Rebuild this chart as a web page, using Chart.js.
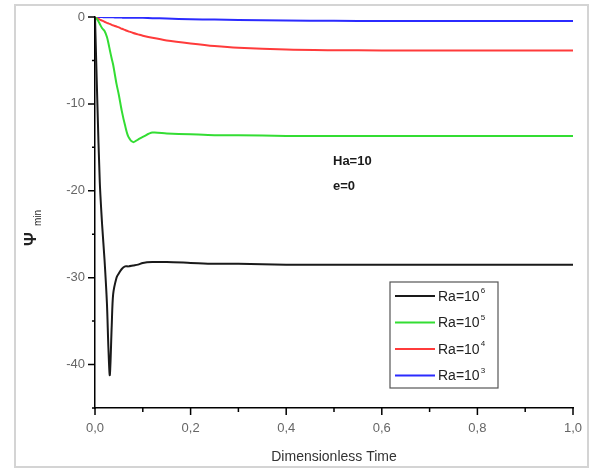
<!DOCTYPE html>
<html>
<head>
<meta charset="utf-8">
<script src="https://cdn.jsdelivr.net/npm/chart.js@4.4.1/dist/chart.umd.min.js"></script>
<style>
  html, body { margin: 0; padding: 0; background: #fff; }
  #wrap { position: relative; width: 592px; height: 470px; }
  #frame { position: absolute; left: 14px; top: 4px; width: 571px; height: 460px; border: 2px solid #d4d4d4; }
  canvas { position: absolute; left: 0; top: 0; }
</style>
</head>
<body>
<div id="wrap">
  <div id="frame"></div>
  <canvas id="chart" width="592" height="470"></canvas>
</div>
<script>
// dimensionless time samples
const times = [0, 0.005, 0.01, 0.015, 0.02, 0.025, 0.028, 0.031, 0.035, 0.038, 0.045, 0.05, 0.056, 0.063, 0.07, 0.08, 0.09, 0.1, 0.12, 0.15, 0.2, 0.25, 0.3, 0.4, 0.5, 0.6, 0.7, 0.8, 0.9, 1.0];

const ra6 = [0, -10, -19, -24, -28, -33, -38, -41.2, -35.5, -31.9, -30.0, -29.5, -29.0, -28.7, -28.7, -28.6, -28.5, -28.3, -28.2, -28.2, -28.3, -28.4, -28.4, -28.5, -28.5, -28.5, -28.5, -28.5, -28.5, -28.5];
const ra5 = [0, -0.3, -0.8, -1.3, -1.6, -2.3, -3.0, -3.8, -4.8, -5.5, -7.7, -9.0, -10.8, -12.5, -13.8, -14.4, -14.1, -13.8, -13.3, -13.4, -13.5, -13.6, -13.6, -13.7, -13.7, -13.7, -13.7, -13.7, -13.7, -13.7];
const ra4 = [0, -0.15, -0.3, -0.42, -0.55, -0.68, -0.74, -0.8, -0.9, -0.96, -1.1, -1.2, -1.35, -1.5, -1.65, -1.85, -2.0, -2.15, -2.4, -2.7, -3.05, -3.35, -3.55, -3.75, -3.82, -3.85, -3.85, -3.85, -3.85, -3.85];
const ra3 = [0, 0, -0.01, -0.01, -0.02, -0.02, -0.03, -0.03, -0.04, -0.04, -0.05, -0.06, -0.07, -0.08, -0.08, -0.09, -0.1, -0.1, -0.13, -0.18, -0.25, -0.3, -0.35, -0.41, -0.44, -0.45, -0.46, -0.46, -0.46, -0.46];

const xTicks = [0, 0.2, 0.4, 0.6, 0.8, 1.0];
const yTicks = [-40, -30, -20, -10, 0];
const legendNames = ['Ra=10', 'Ra=10', 'Ra=10', 'Ra=10'];
const legendExps = ['6', '5', '4', '3'];
const notes = ['Ha=10', 'e=0'];

const colors = ['#1a1a1a', '#33dd33', '#ff3b3b', '#2b2bff'];
const series = [ra6, ra5, ra4, ra3];

const pts = vals => vals.map((v, i) => ({ x: times[i], y: v }));

const extras = {
  id: 'extras',
  afterDraw(chart) {
    const ctx = chart.ctx;
    const xs = chart.scales.x, ys = chart.scales.y;
    const x0 = xs.left, yb = ys.bottom;
    ctx.save();
    ctx.strokeStyle = '#000';
    ctx.lineWidth = 1.5;
    ctx.beginPath();
    // y ticks
    for (let v = -45; v <= 0; v += 5) {
      const y = ys.getPixelForValue(v);
      const len = v % 10 === 0 ? 7 : 3;
      ctx.moveTo(x0 - len, y); ctx.lineTo(x0, y);
    }
    // x ticks
    for (let i = 0; i <= 10; i++) {
      const x = xs.getPixelForValue(i / 10);
      const len = i % 2 === 0 ? 7 : 4;
      ctx.moveTo(x, yb); ctx.lineTo(x, yb + len);
    }
    ctx.stroke();

    // y title: psi with subscript
    ctx.fillStyle = '#222';
    ctx.translate(36, 240);
    ctx.rotate(-Math.PI / 2);
    ctx.font = 'bold 17px "Liberation Sans", Arial, sans-serif';
    ctx.textBaseline = 'alphabetic';
    ctx.textAlign = 'left';
    ctx.fillText('\u03A8', -6, 0);
    ctx.font = '10px "Liberation Sans", Arial, sans-serif';
    ctx.fillText('min', 14, 5);
    ctx.restore();

    // annotation
    ctx.save();
    ctx.fillStyle = '#1a1a1a';
    ctx.font = 'bold 13px "Liberation Sans", Arial, sans-serif';
    ctx.textBaseline = 'middle';
    ctx.fillText(notes[0], 333, 161);
    ctx.fillText(notes[1], 333, 186);

    // legend box
    const lx = 390, ly = 282, lw = 108, lh = 106;
    ctx.strokeStyle = '#555';
    ctx.lineWidth = 1.2;
    ctx.strokeRect(lx, ly, lw, lh);
    legendNames.forEach((name, i) => {
      const y = ly + 14 + i * 26.5;
      ctx.strokeStyle = colors[i];
      ctx.lineWidth = 2;
      ctx.beginPath();
      ctx.moveTo(lx + 5, y); ctx.lineTo(lx + 45, y);
      ctx.stroke();
      ctx.fillStyle = '#222';
      ctx.font = '14px "Liberation Sans", Arial, sans-serif';
      ctx.textBaseline = 'middle';
      ctx.fillText(name, lx + 48, y + 1);
      const w = ctx.measureText(name).width;
      ctx.font = '8px "Liberation Sans", Arial, sans-serif';
      ctx.fillText(legendExps[i], lx + 49 + w, y - 5);
    });
    ctx.restore();
  }
};

new Chart(document.getElementById('chart'), {
  type: 'line',
  data: {
    datasets: series.map((vals, i) => ({
      data: pts(vals),
      borderColor: colors[i],
      borderWidth: 2,
      pointRadius: 0,
      tension: 0.3,
      fill: false
    }))
  },
  options: {
    responsive: false,
    animation: false,
    layout: { padding: { top: 17, right: 19, left: 0, bottom: 0 } },
    plugins: { legend: { display: false }, tooltip: { enabled: false } },
    scales: {
      x: {
        type: 'linear',
        min: 0, max: 1,
        afterBuildTicks: s => { s.ticks = xTicks.map(v => ({ value: v })); },
        afterFit: s => { s.height = 62; },
        grid: { display: false },
        border: { display: true, color: '#000', width: 1.5 },
        ticks: {
          padding: 5,
          color: '#666',
          font: { size: 13, family: '"Liberation Sans", Arial, sans-serif' },
          callback: v => v.toFixed(1).replace('.', ',')
        },
        title: {
          display: true,
          text: 'Dimensionless Time',
          color: '#333',
          font: { size: 14, family: '"Liberation Sans", Arial, sans-serif' },
          padding: { top: 8 }
        }
      },
      y: {
        min: -45, max: 0,
        afterBuildTicks: s => { s.ticks = yTicks.map(v => ({ value: v })); },
        afterFit: s => { s.width = 95; },
        grid: { display: false },
        border: { display: true, color: '#000', width: 1.5 },
        ticks: {
          padding: 2,
          color: '#666',
          font: { size: 13, family: '"Liberation Sans", Arial, sans-serif' }
        }
      }
    }
  },
  plugins: [extras]
});
</script>
</body>
</html>
